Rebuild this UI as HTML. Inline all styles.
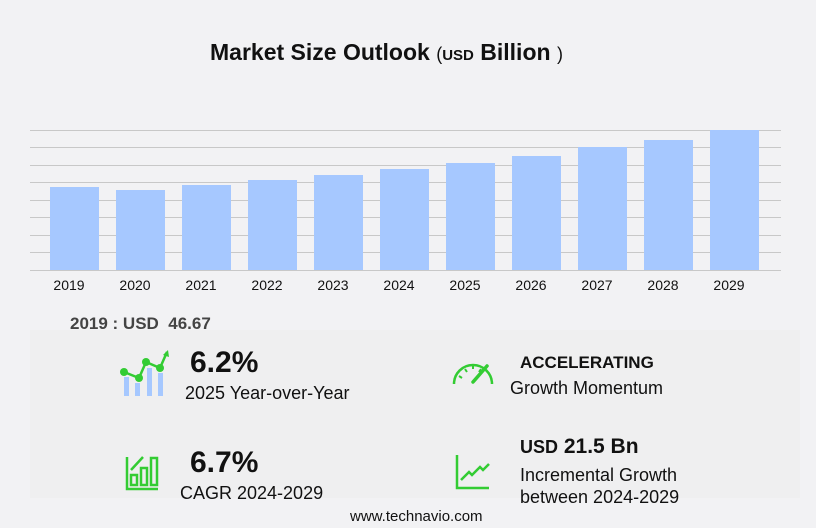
<!DOCTYPE html>
<html><head><style>
body{margin:0;width:816px;height:528px;background:#f2f2f4;font-family:"Liberation Sans",sans-serif;overflow:hidden;position:relative}
.t{position:absolute;white-space:nowrap;color:#111}
</style></head><body>
<div style="position:absolute;left:30px;top:330px;width:770px;height:168px;background:#efeff0"></div>
<div class="t" style="left:210px;top:39px;font-size:23px;font-weight:bold">Market Size Outlook <span style="font-size:18px;font-weight:normal">(</span><span style="font-size:15px">USD</span> Billion <span style="font-size:18px;font-weight:normal">)</span></div>
<svg width="816" height="300" style="position:absolute;left:0;top:0">
<g stroke="#c8c8c8" stroke-width="1">
<line x1="30" x2="781" y1="130.5" y2="130.5"/><line x1="30" x2="781" y1="147.5" y2="147.5"/>
<line x1="30" x2="781" y1="165.5" y2="165.5"/><line x1="30" x2="781" y1="182.5" y2="182.5"/>
<line x1="30" x2="781" y1="200.5" y2="200.5"/><line x1="30" x2="781" y1="217.5" y2="217.5"/>
<line x1="30" x2="781" y1="235.5" y2="235.5"/><line x1="30" x2="781" y1="252.5" y2="252.5"/>
<line x1="30" x2="781" y1="270.5" y2="270.5"/></g>
<g fill="#a6c8ff">
<rect x="50" y="187" width="49" height="83"/><rect x="116" y="190" width="49" height="80"/>
<rect x="182" y="185" width="49" height="85"/><rect x="248" y="180" width="49" height="90"/>
<rect x="314" y="175" width="49" height="95"/><rect x="380" y="169" width="49" height="101"/>
<rect x="446" y="163" width="49" height="107"/><rect x="512" y="156" width="49" height="114"/>
<rect x="578" y="147" width="49" height="123"/><rect x="644" y="140" width="49" height="130"/>
<rect x="710" y="130" width="49" height="140"/></g>
<g font-size="14" fill="#111" text-anchor="middle" font-family="Liberation Sans">
<text x="69" y="290">2019</text><text x="135" y="290">2020</text><text x="201" y="290">2021</text>
<text x="267" y="290">2022</text><text x="333" y="290">2023</text><text x="399" y="290">2024</text>
<text x="465" y="290">2025</text><text x="531" y="290">2026</text><text x="597" y="290">2027</text>
<text x="663" y="290">2028</text><text x="729" y="290">2029</text></g>
</svg>
<div class="t" style="left:70px;top:314px;font-size:17px;font-weight:bold;color:#444">2019 : USD&nbsp; 46.67</div>
<svg width="816" height="528" style="position:absolute;left:0;top:0">
<g fill="#a6c8ff"><rect x="124" y="377" width="5" height="19"/><rect x="135" y="383" width="5" height="13"/><rect x="147" y="368" width="5" height="28"/><rect x="158" y="373" width="5" height="23"/></g>
<polyline points="124,372 139,378 146,362 160,368 167,352" fill="none" stroke="#33cc33" stroke-width="2.5"/>
<g fill="#33cc33"><circle cx="124" cy="372" r="4"/><circle cx="139" cy="378" r="4"/><circle cx="146" cy="362" r="4"/><circle cx="160" cy="368" r="4"/><path d="M163,355 L168,350 L169,357Z"/></g>
<g fill="none" stroke="#33cc33" stroke-width="2.5">
<path d="M127,457 V489 H158"/><rect x="131" y="475" width="6" height="10"/><rect x="141" y="468" width="6" height="17"/><rect x="151" y="458" width="6" height="27"/><path d="M131,470 L143,457"/>
<path d="M454,384 A19,19 0 0 1 492,384"/>
<path d="M459,376 L462,378 M465,369 L467,372 M473,366 V369 M481,369 L479,372" stroke-width="2"/>
<path d="M473,382 L487,366" stroke-width="3.5" stroke-linecap="round"/>
<path d="M457,455 V488 H489"/><path d="M461,480 L469,472 L472,475 L480,467 L483,470 L489,464"/></g>
</svg>
<div class="t" style="left:190px;top:346px;font-size:30px;font-weight:bold">6.2%</div>
<div class="t" style="left:185px;top:383px;font-size:18px">2025 Year-over-Year</div>
<div class="t" style="left:190px;top:446px;font-size:30px;font-weight:bold">6.7%</div>
<div class="t" style="left:180px;top:483px;font-size:18px">CAGR 2024-2029</div>
<div class="t" style="left:520px;top:353px;font-size:17px;font-weight:bold">ACCELERATING</div>
<div class="t" style="left:510px;top:378px;font-size:18px">Growth Momentum</div>
<div class="t" style="left:520px;top:435px;font-size:21px;font-weight:bold"><span style="font-size:18px">USD</span> 21.5 Bn</div>
<div class="t" style="left:520px;top:465px;font-size:18px">Incremental Growth</div>
<div class="t" style="left:520px;top:487px;font-size:18px">between 2024-2029</div>
<div class="t" style="left:350px;top:508px;font-size:15px">www.technavio.com</div>
</body></html>
